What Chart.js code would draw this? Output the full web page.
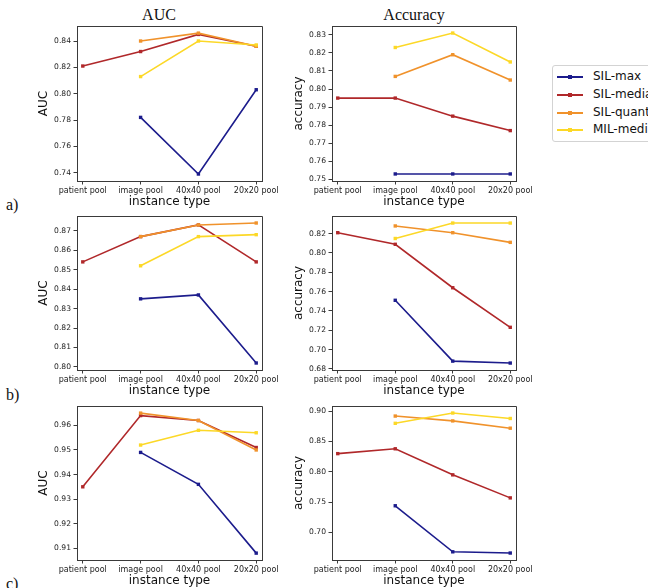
<!DOCTYPE html>
<html>
<head>
<meta charset="utf-8">
<script src="https://cdn.jsdelivr.net/npm/chart.js@4.4.0/dist/chart.umd.min.js"></script>
<style>
body { margin: 0; background: #fff; }
#fig { position: relative; width: 648px; height: 588px; overflow: hidden; }
#fig canvas { position: absolute; }
.ttl { position: absolute; font-family: "Liberation Serif", serif; font-size: 16px; color: #111; transform: translate(-50%, -50%); white-space: nowrap; }
.lbl { position: absolute; font-family: "Liberation Serif", serif; font-size: 16px; color: #111; }
#legend { position: absolute; left: 552px; top: 65px; width: 120px; height: 75px; border: 1px solid #d3d3d3; border-radius: 3px; background: #fff; }
#legend .row { position: absolute; left: 0; height: 0; }
#legend .ln { position: absolute; left: 4px; top: -1px; width: 26px; height: 2px; }
#legend .mk { position: absolute; left: 15px; top: -2px; width: 4px; height: 4px; }
#legend .tx { position: absolute; left: 40px; top: -8px; font-family: "DejaVu Sans", sans-serif; font-size: 12px; color: #111; white-space: nowrap; line-height: 15px; }
</style>
</head>
<body>
<div id="fig">
  <div class="ttl" style="left:159px; top:15px;">AUC</div>
  <div class="ttl" style="left:414px; top:15px;">Accuracy</div>
  <div class="lbl" style="left:6px; top:196px;">a)</div>
  <div class="lbl" style="left:6px; top:386px;">b)</div>
  <div class="lbl" style="left:6px; top:575px;">c)</div>
  <canvas id="aAuc"></canvas>
  <canvas id="aAcc"></canvas>
  <canvas id="bAuc"></canvas>
  <canvas id="bAcc"></canvas>
  <canvas id="cAuc"></canvas>
  <canvas id="cAcc"></canvas>
  <div id="legend"></div>
</div>
<script>
const categories = ["patient pool", "image pool", "40x40 pool", "20x20 pool"];
const seriesNames = ["SIL-max", "SIL-median", "SIL-quantile", "MIL-median"];
const seriesColors = ["#1c1c8c", "#b0282a", "#f0922b", "#fcd827"];

// each panel: SIL-max, SIL-median, SIL-quantile, MIL-median
const aAuc = [
    [null, 0.782, 0.739, 0.803],
    [0.821, 0.832, 0.845, 0.836],
    [null, 0.840, 0.846, 0.836],
    [null, 0.813, 0.840, 0.837]
];
const aAcc = [
    [null, 0.753, 0.753, 0.753],
    [0.795, 0.795, 0.785, 0.777],
    [null, 0.807, 0.819, 0.805],
    [null, 0.823, 0.831, 0.815]
];
const bAuc = [
    [null, 0.835, 0.837, 0.802],
    [0.854, 0.867, 0.873, 0.854],
    [null, 0.867, 0.873, 0.874],
    [null, 0.852, 0.867, 0.868]
];
const bAcc = [
    [null, 0.751, 0.688, 0.686],
    [0.821, 0.809, 0.764, 0.723],
    [null, 0.828, 0.821, 0.811],
    [null, 0.815, 0.831, 0.831]
];
const cAuc = [
    [null, 0.949, 0.936, 0.908],
    [0.935, 0.964, 0.962, 0.951],
    [null, 0.965, 0.962, 0.950],
    [null, 0.952, 0.958, 0.957]
];
const cAcc = [
    [null, 0.744, 0.668, 0.666],
    [0.830, 0.838, 0.795, 0.757],
    [null, 0.892, 0.884, 0.872],
    [null, 0.880, 0.897, 0.888]
];

const aAucTicks = [0.74, 0.76, 0.78, 0.80, 0.82, 0.84];
const aAccTicks = [0.75, 0.76, 0.77, 0.78, 0.79, 0.80, 0.81, 0.82, 0.83];
const bAucTicks = [0.80, 0.81, 0.82, 0.83, 0.84, 0.85, 0.86, 0.87];
const bAccTicks = [0.68, 0.70, 0.72, 0.74, 0.76, 0.78, 0.80, 0.82];
const cAucTicks = [0.91, 0.92, 0.93, 0.94, 0.95, 0.96];
const cAccTicks = [0.70, 0.75, 0.80, 0.85, 0.90];

const axisColor = "#3a3a3a";

// top and right spines
const framePlugin = {
    id: "frame",
    afterDraw(chart) {
        const a = chart.chartArea;
        const ctx = chart.ctx;
        ctx.save();
        ctx.strokeStyle = axisColor;
        ctx.lineWidth = 1;
        ctx.beginPath();
        ctx.moveTo(Math.round(a.left) + 0.5, Math.round(a.top) + 0.5);
        ctx.lineTo(Math.round(a.right) + 0.5, Math.round(a.top) + 0.5);
        ctx.lineTo(Math.round(a.right) + 0.5, Math.round(a.bottom) + 0.5);
        ctx.stroke();
        ctx.restore();
    }
};

function makePanel(id, box, series, yMin, yMax, yTicks, yTitle) {
    const [left, top, right, bottom] = box;
    const canvas = document.getElementById(id);
    const w = right - left + 40 + 24;
    const h = bottom - top + 8 + 30;
    canvas.width = w;
    canvas.height = h;
    canvas.style.left = (left - 40) + "px";
    canvas.style.top = (top - 8) + "px";
    canvas.style.width = w + "px";
    canvas.style.height = h + "px";

    const datasets = series.map(function (vals, k) {
        return {
            label: seriesNames[k],
            data: vals.map(function (v, i) { return { x: i, y: v }; }),
            borderColor: seriesColors[k],
            backgroundColor: seriesColors[k],
            borderWidth: 1.6,
            pointStyle: "rect",
            pointRadius: 2.4,
            pointBorderWidth: 0,
            pointBackgroundColor: seriesColors[k],
            order: 4 - k,
            spanGaps: false,
            tension: 0
        };
    });

    return new Chart(canvas.getContext("2d"), {
        type: "line",
        data: { datasets: datasets },
        plugins: [framePlugin],
        options: {
            responsive: false,
            animation: false,
            devicePixelRatio: 1,
            layout: { padding: { left: 0, top: 8, right: 24, bottom: 0 } },
            plugins: { legend: { display: false }, tooltip: { enabled: false } },
            scales: {
                x: {
                    type: "linear",
                    min: -0.1,
                    max: 3.1,
                    afterBuildTicks: function (s) { s.ticks = categories.map(function (c, i) { return { value: i }; }); },
                    afterFit: function (s) { s.height = 30; },
                    ticks: {
                        callback: function (v) { return categories[v]; },
                        font: { family: "DejaVu Sans", size: 8 },
                        color: "#222",
                        padding: 2,
                        maxRotation: 0,
                        autoSkip: false
                    },
                    grid: { drawOnChartArea: false, tickLength: 3.5, color: axisColor },
                    border: { color: axisColor },
                    title: {
                        display: true,
                        text: "instance type",
                        font: { family: "DejaVu Sans", size: 12 },
                        color: "#111",
                        padding: { top: 0, bottom: 2 }
                    }
                },
                y: {
                    type: "linear",
                    min: yMin,
                    max: yMax,
                    afterBuildTicks: function (s) { s.ticks = yTicks.map(function (v) { return { value: v }; }); },
                    afterFit: function (s) { s.width = 40; },
                    ticks: {
                        callback: function (v) { return v.toFixed(2); },
                        font: { family: "DejaVu Sans", size: 7.6 },
                        color: "#222",
                        padding: 2.5
                    },
                    grid: { drawOnChartArea: false, tickLength: 3.5, color: axisColor },
                    border: { color: axisColor },
                    title: {
                        display: true,
                        text: yTitle,
                        font: { family: "DejaVu Sans", size: 12 },
                        color: "#111",
                        padding: { top: 0, bottom: 0 }
                    }
                }
            }
        }
    });
}

makePanel("aAuc", [77, 26, 262, 181], aAuc, 0.7337, 0.8514, aAucTicks, "AUC");
makePanel("aAcc", [332, 26, 516, 181], aAcc, 0.7491, 0.8349, aAccTicks, "accuracy");
makePanel("bAuc", [77, 216, 262, 370], bAuc, 0.7984, 0.8776, bAucTicks, "AUC");
makePanel("bAcc", [332, 216, 516, 370], bAcc, 0.6788, 0.8383, bAccTicks, "accuracy");
makePanel("cAuc", [77, 406, 262, 560], cAuc, 0.9052, 0.9679, cAucTicks, "AUC");
makePanel("cAcc", [332, 406, 516, 560], cAcc, 0.6545, 0.9086, cAccTicks, "accuracy");

// legend
const legend = document.getElementById("legend");
seriesNames.forEach(function (name, k) {
    const row = document.createElement("div");
    row.className = "row";
    row.style.top = (11 + k * 17.8) + "px";
    row.innerHTML = '<span class="ln" style="background:' + seriesColors[k] + '"></span>' +
        '<span class="mk" style="background:' + seriesColors[k] + '"></span>' +
        '<span class="tx">' + name + '</span>';
    legend.appendChild(row);
});
</script>
</body>
</html>
